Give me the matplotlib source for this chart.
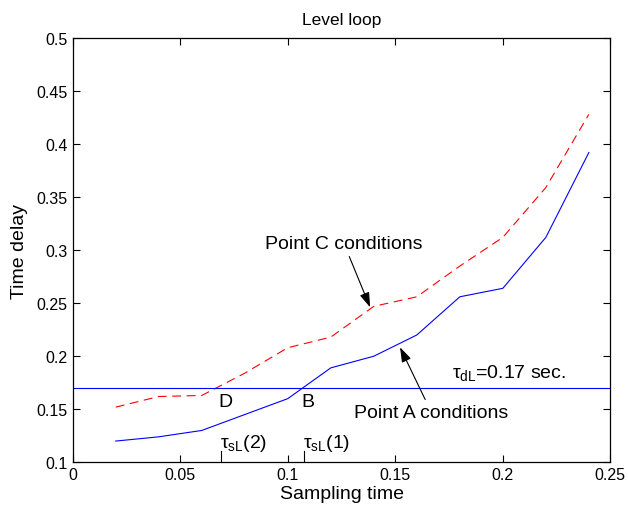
import numpy as np
import matplotlib
matplotlib.use("Agg")
import matplotlib.pyplot as plt

plt.rcParams["font.family"] = ["Liberation Sans", "DejaVu Sans"]
plt.rcParams["mathtext.fontset"] = "custom"
plt.rcParams["mathtext.rm"] = "Liberation Sans"
plt.rcParams["mathtext.it"] = "Liberation Sans"

# sampling times and delays
sampling = [0.02, 0.04, 0.06, 0.08, 0.10, 0.12, 0.14, 0.16, 0.18, 0.20, 0.22, 0.24]
delay_a = [0.120, 0.124, 0.130, 0.145, 0.160, 0.189, 0.200, 0.220, 0.256, 0.264, 0.312, 0.392]
delay_c = [0.152, 0.162, 0.163, 0.184, 0.208, 0.218, 0.247, 0.256, 0.285, 0.312, 0.359, 0.428]
tau_dl = 0.17
tau_sl = [0.1077, 0.069]  # tau_sL(1), tau_sL(2)

fig = plt.figure(figsize=(6.28, 5.10), dpi=100)
ax = fig.add_axes([0.1158, 0.0916, 0.8561, 0.8320])

ax.plot(sampling, delay_a, color="blue", lw=0.8)
ax.plot(sampling, delay_c, color="red", lw=0.8, ls=(0, (8, 5)))
ax.axhline(tau_dl, color="blue", lw=0.8)

for t in tau_sl:
    ax.plot([t, t], [0.1, 0.111], color="black", lw=0.8)

ax.text(tau_sl[1] - 0.0007, 0.1085, r"$\tau_{\rm sL}$(2)", fontsize=14, ha="left", va="bottom")
ax.text(tau_sl[0] - 0.0007, 0.1085, r"$\tau_{\rm sL}$(1)", fontsize=14, ha="left", va="bottom")
ax.text(0.0709, 0.157, "D", fontsize=14, ha="center", va="center")
ax.text(0.1094, 0.157, "B", fontsize=14, ha="center", va="center")
ax.text(0.1765, 0.1755, r"$\tau_{\rm dL}$=0.17 sec.", fontsize=14, ha="left", va="bottom")

arrow = dict(arrowstyle="-|>,head_length=0.45,head_width=0.15", color="black", lw=0.8,
             mutation_scale=20, shrinkA=1, shrinkB=0)
ax.annotate("Point C conditions", xy=(0.1383, 0.2461), xytext=(0.1262, 0.3058),
            fontsize=14, ha="center", va="center", arrowprops=arrow)
ax.annotate("Point A conditions", xy=(0.1522, 0.2084), xytext=(0.1667, 0.1474),
            fontsize=14, ha="center", va="center", arrowprops=arrow)

ax.set_xlim(0, 0.25)
ax.set_ylim(0.1, 0.5)
ax.set_xticks(np.arange(0, 0.2501, 0.05), ["0", "0.05", "0.1", "0.15", "0.2", "0.25"])
ax.set_yticks(np.arange(0.1, 0.5001, 0.05),
              ["0.1", "0.15", "0.2", "0.25", "0.3", "0.35", "0.4", "0.45", "0.5"])
ax.tick_params(direction="in", length=5, width=0.8, top=True, right=True, labelsize=11.5)
for s in ax.spines.values():
    s.set_linewidth(0.9)

ax.set_xlabel("Sampling time", fontsize=14, labelpad=2)
ax.set_ylabel("Time delay", fontsize=14, labelpad=6)
ax.set_title("Level loop", fontsize=12.5, pad=10)

fig.savefig("out.png", dpi=100)
